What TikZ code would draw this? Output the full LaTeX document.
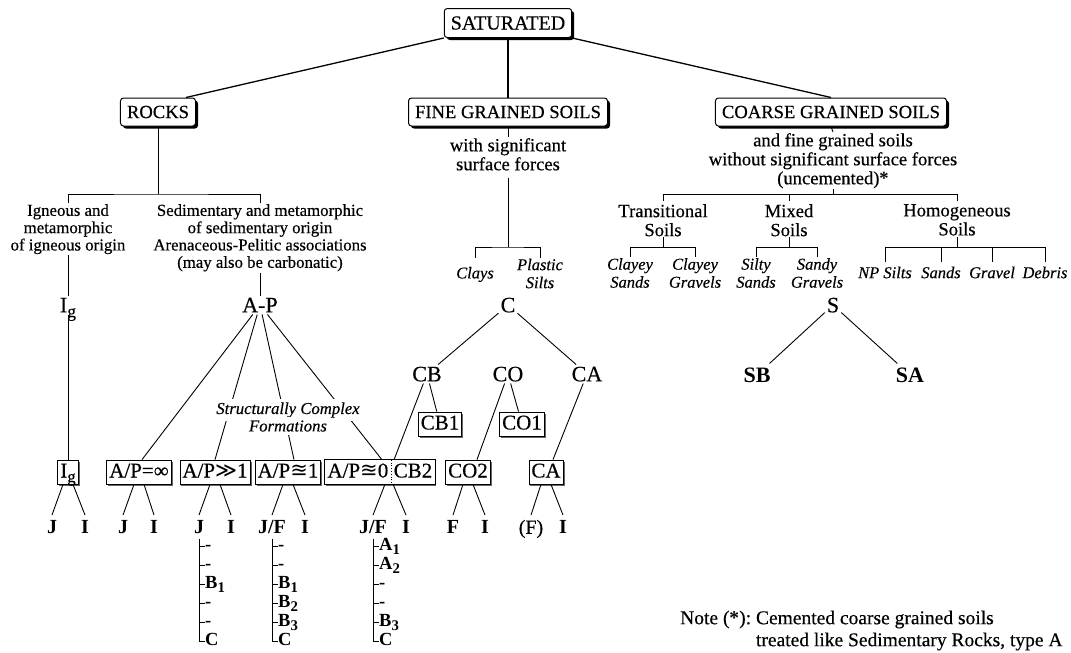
\documentclass[tikz,border=0pt]{standalone}
\usepackage{fontspec}
\setmainfont{Liberation Serif}[UprightFeatures={FakeBold=0.4},ItalicFeatures={FakeBold=0.4}]
\newfontfamily\symf{DejaVu Sans}
\usepackage{graphicx}
\usetikzlibrary{shadows,fit}
\pgfdeclarelayer{bg}
\pgfsetlayers{bg,main}
\newcommand\lsub[1]{\raisebox{-0.22em}{\scalebox{0.8}{#1}}}
\newcommand\fsz[2]{\fontsize{#1}{#2}\selectfont}
\tikzset{
  topbox/.style={draw, line width=1pt, rounded corners=3pt, fill=white, inner xsep=6.5pt, inner ysep=2pt, minimum height=28pt, font=\fsz{18.6}{20}, drop shadow={shadow xshift=2.5pt, shadow yshift=-2.5pt, fill=black, opacity=1}},
  sqtext/.style={inner xsep=2.5pt, inner ysep=2pt, minimum height=24pt, text height=14.5pt, text depth=3.5pt, font=\fsz{21}{22}},
  sqbox/.style={sqtext, draw, line width=0.8pt, fill=white, drop shadow={shadow xshift=1.5pt, shadow yshift=-1.5pt, fill=black!60, opacity=1}},
  sym/.style={font=\fsz{22}{22}, inner sep=2pt, text height=14.6pt, text depth=0pt},
  symb/.style={sym, font=\bfseries\fsz{22}{22}},
  leaf/.style={font=\bfseries\fsz{20}{20}, inner xsep=1pt, inner ysep=5pt, text height=13.5pt, text depth=0pt},
  litem/.style={font=\bfseries\fsz{18.5}{19}, inner sep=0pt, text height=11pt, text depth=2pt, anchor=west},
  desc/.style={align=center, font=\fsz{18.6}{19}, inner sep=1pt},
  rdesc/.style={align=center, font=\fsz{16.8}{17.3}, inner sep=1pt},
  ital/.style={align=center, font=\itshape\fsz{16.5}{18}, inner sep=1pt},
  conn/.style={line width=0.9pt},
  topconn/.style={line width=1.3pt},
  brk/.style={line width=0.7pt},
  lst/.style={line width=1pt},
}
\begin{document}
\begin{tikzpicture}[x=1pt,y=-1pt]
\useasboundingbox (0,0) rectangle (1071,653);
% ---------- top level
\node[topbox, font=\fsz{20}{22}, minimum height=29pt] (sat) at (508,23) {SATURATED};
\node[topbox] (rocks) at (158,112) {ROCKS};
\node[topbox] (fine) at (508,112) {FINE GRAINED SOILS};
\node[topbox] (coarse) at (831,112) {COARSE GRAINED SOILS};
\draw[topconn] (sat.south west) -- ([xshift=-10pt]rocks.north east);
\draw[topconn] (sat.south) -- (fine.north);
\draw[topconn] (sat.south east) -- (coarse.north);
% ---------- rocks
\coordinate (rb) at (158,194);
\coordinate (rt) at (0,203);
\node[rdesc, anchor=north] (ign) at (68,203) {Igneous and\\metamorphic\\of igneous origin};
\node[rdesc, anchor=north] (sed) at (260,203) {Sedimentary and metamorphic\\of sedimentary origin\\Arenaceous-Pelitic associations\\(may also be carbonatic)};
\draw[conn] (rocks.south) -- (rb);
\draw[brk] (ign |- rt) |- (rb) -| (sed |- rt);
\node[sym] (igl) at (68,305) {I\lsub{g}};
\node[sym] (ap) at (260,305) {A-P};
\draw[conn] (ign.south) -- (igl.north);
\draw[conn] (sed.south) -- (ap.north);
% boxes row
\node[sqbox] (igbox) at (68,472) {I\lsub{g}};
\node[sqbox] (apinf) at (139,472) {A/P=∞};
\node[sqbox] (apgg) at (215,472) {A/P{\symf ≫}1};
\node[sqbox] (apone) at (288,472) {A/P{\symf ≊}1};
\node[sqtext, anchor=east] (apzero) at (391,472) {A/P{\symf ≊}0};
\node[sqtext, anchor=west] (cbtwo) at (391,472) {CB2};
\begin{pgfonlayer}{bg}
\node[sqbox, fit=(apzero)(cbtwo), inner sep=0pt] (apcb) {};
\end{pgfonlayer}
\draw[dotted, line width=0.8pt] (apzero.north east) -- (apzero.south east);
\node[sqbox] (cbone) at (440,424) {CB1};
\node[sqbox] (coone) at (522,424) {CO1};
\node[sqbox] (cotwo) at (468,472) {CO2};
\node[sqbox] (cabox) at (546,472) {CA};
\draw[conn] (igl.south) -- (igbox.north);
\draw[conn] (ap) -- ([xshift=3pt]apinf.north);
\draw[conn] (ap) -- (apgg.north);
\draw[conn] (ap) -- ([xshift=6pt]apone.north);
\draw[conn] (ap) -- ([xshift=-9pt]apzero.north east);
\node[ital, fill=white, inner xsep=1pt, inner ysep=3pt, font=\itshape\fsz{16.7}{18}] (scf1) at (288,410) {Structurally Complex};
\node[ital, fill=white, inner xsep=1pt, inner ysep=3pt, font=\itshape\fsz{16.7}{18}] (scf2) at (288,426) {Formations};
% ---------- fine grained
\node[desc, anchor=north] (wsig) at (508,137) {with significant\\surface forces};
\draw[conn] (fine.south) -- (wsig.north);
\coordinate (fb) at (508,247);
\coordinate (ft) at (0,258);
\draw[conn, shorten <=6pt] (wsig.south) -- (fb);
\node[ital] (clays) at (475,274.5) {Clays};
\node[ital] (plsilts) at (540,273.5) {Plastic\\Silts};
\draw[brk] (clays |- ft) |- (fb) -| (plsilts |- ft);
\node[sym] (c) at (508,305) {C};
\node[sym] (cb) at (427,374) {CB};
\node[sym] (co) at (508,374) {CO};
\node[sym] (ca) at (587,374) {CA};
\draw[conn] (c) -- (cb);
\draw[conn] (c) -- (ca);
\draw[conn] (cb) -- (cbone);
\draw[conn] (cb) -- ([xshift=3pt]apzero.north east);
\draw[conn] (co) -- (coone);
\draw[conn] (co) -- ([xshift=9pt]cotwo.north);
\draw[conn] (ca) -- ([xshift=7pt]cabox.north);
% ---------- leaves
\node[leaf] (j1) at (52,527) {J};
\node[leaf] (i1) at (85,527) {I};
\node[leaf] (j2) at (123,527) {J};
\node[leaf] (i2) at (154,527) {I};
\node[leaf] (j3) at (199,527) {J};
\node[leaf] (i3) at (231,527) {I};
\node[leaf] (j4) at (272,527) {J/F};
\node[leaf] (i4) at (305,527) {I};
\node[leaf] (j5) at (373,527) {J/F};
\node[leaf] (i5) at (406,527) {I};
\node[leaf] (f6) at (453,527) {F};
\node[leaf] (i6) at (485,527) {I};
\node[leaf, font=\fsz{20}{20}] (f7) at (531,527) {(F)};
\node[leaf] (i7) at (563,527) {I};
\draw[conn] ([xshift=-5pt]igbox.south) -- (j1.north);
\draw[conn] ([xshift=5pt]igbox.south) -- (i1.north);
\draw[conn] ([xshift=-5pt]apinf.south) -- (j2.north);
\draw[conn] ([xshift=5pt]apinf.south) -- (i2.north);
\draw[conn] ([xshift=-5pt]apgg.south) -- (j3.north);
\draw[conn] ([xshift=5pt]apgg.south) -- (i3.north);
\draw[conn] ([xshift=-5pt]apone.south) -- (j4.north);
\draw[conn] ([xshift=5pt]apone.south) -- (i4.north);
\draw[conn] ([xshift=-6pt]apzero.south east) -- (j5.north);
\draw[conn] ([xshift=2pt]apzero.south east) -- (i5.north);
\draw[conn] ([xshift=-5pt]cotwo.south) -- (f6.north);
\draw[conn] ([xshift=5pt]cotwo.south) -- (i6.north);
\draw[conn] ([xshift=-5pt]cabox.south) -- (f7.north);
\draw[conn] ([xshift=5pt]cabox.south) -- (i7.north);
% ---------- lists
\node[litem] (la1) at (205,546) {-};
\node[litem] (la2) at (205,565) {-};
\node[litem] (la3) at (205,584) {B\lsub{1}};
\node[litem] (la4) at (205,603) {-};
\node[litem] (la5) at (205,622) {-};
\node[litem] (la6) at (205,641) {C};
\draw[lst] (j3.south) |- (la6.west);
\foreach \n in {la1,la2,la3,la4,la5} \draw[brk] (j3.south |- \n.west) -- (\n.west);
\node[litem] (lb1) at (278,546) {-};
\node[litem] (lb2) at (278,565) {-};
\node[litem] (lb3) at (278,584) {B\lsub{1}};
\node[litem] (lb4) at (278,603) {B\lsub{2}};
\node[litem] (lb5) at (278,622) {B\lsub{3}};
\node[litem] (lb6) at (278,641) {C};
\draw[lst] (j4.south) |- (lb6.west);
\foreach \n in {lb1,lb2,lb3,lb4,lb5} \draw[brk] (j4.south |- \n.west) -- (\n.west);
\node[litem] (lc1) at (379,546) {A\lsub{1}};
\node[litem] (lc2) at (379,565) {A\lsub{2}};
\node[litem] (lc3) at (379,584) {-};
\node[litem] (lc4) at (379,603) {-};
\node[litem] (lc5) at (379,622) {B\lsub{3}};
\node[litem] (lc6) at (379,641) {C};
\draw[lst] (j5.south) |- (lc6.west);
\foreach \n in {lc1,lc2,lc3,lc4,lc5} \draw[brk] (j5.south |- \n.west) -- (\n.west);
% ---------- coarse grained
\node[desc, anchor=north] (cdesc) at (833,132) {and fine grained soils\\without significant surface forces\\(uncemented)\textbf{*}};
\draw[conn] (coarse.south) -- (cdesc.north);
\coordinate (cb0) at (833,194);
\coordinate (ct) at (0,201);
\draw[brk] (cdesc.south) -- (cb0);
\node[desc, anchor=north] (trans) at (663,203) {Transitional\\Soils};
\node[desc, anchor=north] (mixed) at (789,203) {Mixed\\Soils};
\node[desc, anchor=north] (homog) at (957,203) {Homogeneous\\Soils};
\draw[brk] (trans |- ct) |- (homog |- cb0) -- (homog |- ct);
\draw[brk] (mixed |- ct) -- (mixed |- cb0);
\coordinate (sb) at (0,247);
\coordinate (st) at (0,257);
\coordinate (st2) at (0,262);
\node[ital] (clsa) at (630,273) {Clayey\\Sands};
\node[ital] (clgr) at (695,273) {Clayey\\Gravels};
\node[ital] (silsa) at (756,273) {Silty\\Sands};
\node[ital] (sagr) at (817,273) {Sandy\\Gravels};
\node[ital] (npsi) at (885,272.5) {NP Silts};
\node[ital] (sands) at (941,272.5) {Sands};
\node[ital] (grav) at (992,272.5) {Gravel};
\node[ital] (debr) at (1045,272.5) {Debris};
\draw[brk] (trans.south) -- (trans |- sb);
\draw[brk] (clsa |- st) |- (clgr |- sb) -- (clgr |- st);
\draw[brk] (mixed.south) -- (mixed |- sb);
\draw[brk] (silsa |- st) |- (sagr |- sb) -- (sagr |- st);
\draw[brk] (homog.south) -- (homog |- sb);
\draw[brk] (npsi |- st2) |- (debr |- sb) -- (debr |- st2);
\draw[brk] (sands |- st2) -- (sands |- sb);
\draw[brk] (grav |- st2) -- (grav |- sb);
\node[sym] (s) at (833,305) {S};
\node[symb] (sbn) at (757,375) {SB};
\node[symb] (san) at (910,375) {SA};
\draw[conn, shorten >=3pt] (s) -- (sbn);
\draw[conn, shorten >=3pt] (s) -- (san);
% ---------- note
\node[anchor=north west, inner sep=0pt, font=\fsz{19.5}{22}] (note) at (680,608.6) {\begin{tabular}{@{}l@{}l@{}}Note (\textbf{*}):~ & Cemented coarse grained soils\\ & treated like Sedimentary Rocks, type A\end{tabular}};
\end{tikzpicture}
\end{document}
